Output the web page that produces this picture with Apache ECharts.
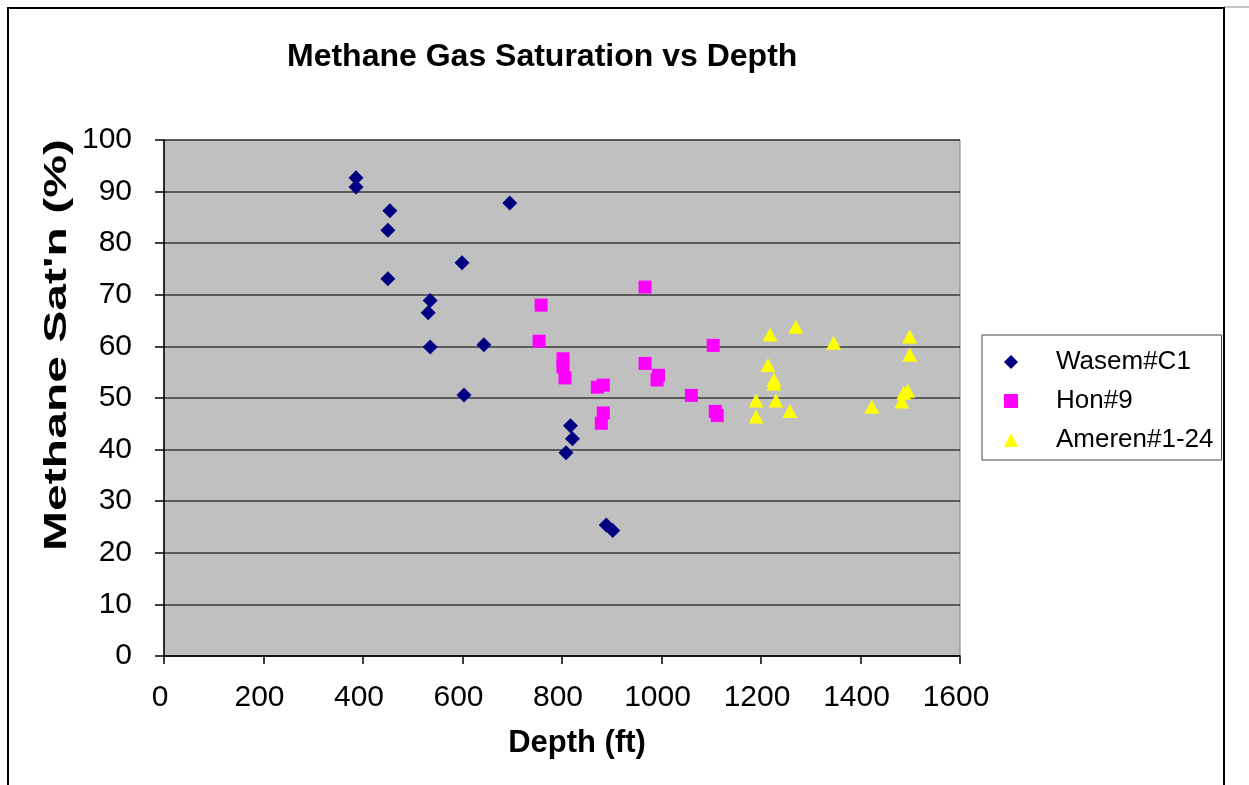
<!DOCTYPE html>
<html>
<head>
<meta charset="utf-8">
<script src="https://cdn.jsdelivr.net/npm/echarts@6/dist/echarts.min.js"></script>
<style>
  html, body { margin: 0; padding: 0; background: #fff; }
  #chart { width: 1249px; height: 785px; }
</style>
</head>
<body>
<div id="chart"></div>
<script>
// Core sample depths (ft) and methane gas saturation (%) per well
const wasemDepth = [386, 386, 695, 454, 450, 599, 450, 535, 531, 535, 643, 603, 817, 821, 808, 889, 902];
const wasemSat   = [92.7, 90.9, 87.8, 86.3, 82.5, 76.2, 73.1, 68.9, 66.5, 59.9, 60.3, 50.6, 44.6, 42.1, 39.4, 25.4, 24.3];

const honDepth = [967, 758, 754, 1104, 802, 802, 806, 967, 994, 991, 871, 883, 1060, 883, 879, 1108, 1112];
const honSat   = [71.5, 68.0, 61.0, 60.2, 57.6, 56.0, 53.9, 56.7, 54.4, 53.5, 52.1, 52.5, 50.5, 47.1, 45.1, 47.4, 46.6];

const amerenDepth = [1218, 1270, 1346, 1499, 1499, 1214, 1226, 1226, 1190, 1230, 1190, 1258, 1423, 1487, 1495, 1483];
const amerenSat   = [62.3, 63.8, 60.7, 61.9, 58.4, 56.4, 53.6, 52.8, 49.5, 49.5, 46.4, 47.5, 48.3, 51.0, 51.4, 49.3];

const seriesNames = ['Wasem#C1', 'Hon#9', 'Ameren#1-24'];
const depthRange = [0, 1600, 200];
const satRange = [0, 100, 10];

const FONT = 'Liberation Sans, Arial, sans-serif';
const pairs = (xs, ys) => xs.map((x, i) => [x, ys[i]]);

const chart = echarts.init(document.getElementById('chart'), null, { renderer: 'canvas' });

chart.setOption({
  animation: false,
  backgroundColor: '#ffffff',
  title: {
    text: 'Methane Gas Saturation vs Depth',
    left: 287,
    top: 41,
    padding: 0,
    textStyle: { fontFamily: FONT, fontSize: 32, fontWeight: 'bold', color: '#000' }
  },
  grid: {
    left: 164, top: 140, right: 289, bottom: 129,
    containLabel: false,
    outerBoundsMode: 'none',
    show: true,
    backgroundColor: '#c0c0c0',
    borderColor: '#808080',
    borderWidth: 1
  },
  legend: {
    orient: 'vertical',
    left: 982,
    top: 335,
    padding: [14, 8, 7, 22],
    itemGap: 13,
    itemWidth: 14,
    itemHeight: 14,
    borderColor: '#444',
    borderWidth: 1,
    backgroundColor: '#fff',
    textStyle: { fontFamily: FONT, fontSize: 26, color: '#000', lineHeight: 26, padding: [0, 0, 0, 33] },
    data: seriesNames
  },
  xAxis: {
    type: 'value',
    min: depthRange[0], max: depthRange[1], interval: depthRange[2],
    name: 'Depth (ft)',
    nameLocation: 'middle',
    nameGap: 72,
    nameTextStyle: { fontFamily: FONT, fontSize: 31, fontWeight: 'bold', color: '#000', padding: [0, 0, 0, 30] },
    axisLine: { show: true, onZero: false, lineStyle: { color: '#000', width: 1.5 } },
    axisTick: { show: true, length: 8, lineStyle: { color: '#000', width: 1.5 } },
    axisLabel: {
      fontFamily: FONT, fontSize: 30, color: '#000', margin: 27,
      padding: [0, 8, 0, 0],
      formatter: v => String(v)
    },
    splitLine: { show: false }
  },
  yAxis: {
    type: 'value',
    min: satRange[0], max: satRange[1], interval: satRange[2],
    axisLine: { show: true, onZero: false, lineStyle: { color: '#000', width: 1.5 } },
    axisTick: { show: true, length: 9, lineStyle: { color: '#000', width: 1.5 } },
    axisLabel: { fontFamily: FONT, fontSize: 30, color: '#000', margin: 32, padding: [8, 0, 0, 0] },
    splitLine: { show: true, lineStyle: { color: '#3a3a3a', width: 1.5 } }
  },
  graphic: [
    // rotated y-axis title, stretched along its length
    {
      type: 'text',
      x: 57, y: 345,
      rotation: Math.PI / 2,
      scaleX: 1.55,
      style: {
        text: "Methane Sat'n (%)",
        fontFamily: FONT, fontSize: 31, fontWeight: 'bold', fill: '#000',
        align: 'center', verticalAlign: 'middle'
      }
    },
    // frame around the chart
    { type: 'line', shape: { x1: 1224, y1: 7, x2: 1249, y2: 7 }, style: { stroke: '#888', lineWidth: 1 } },
    { type: 'line', shape: { x1: 7, y1: 8, x2: 1225, y2: 8 }, style: { stroke: '#000', lineWidth: 2 } },
    { type: 'line', shape: { x1: 8, y1: 8, x2: 8, y2: 785 }, style: { stroke: '#000', lineWidth: 2 } },
    { type: 'line', shape: { x1: 1224, y1: 8, x2: 1224, y2: 785 }, style: { stroke: '#000', lineWidth: 2 } }
  ],
  series: [
    {
      name: seriesNames[0], type: 'scatter', symbol: 'diamond', symbolSize: 15,
      itemStyle: { color: '#000080', opacity: 1 },
      data: pairs(wasemDepth, wasemSat)
    },
    {
      name: seriesNames[1], type: 'scatter', symbol: 'rect', symbolSize: 13,
      itemStyle: { color: '#ff00ff', opacity: 1 },
      data: pairs(honDepth, honSat)
    },
    {
      name: seriesNames[2], type: 'scatter', symbol: 'triangle', symbolSize: [15, 14],
      itemStyle: { color: '#ffff00', opacity: 1 },
      data: pairs(amerenDepth, amerenSat)
    }
  ]
});
</script>
</body>
</html>
